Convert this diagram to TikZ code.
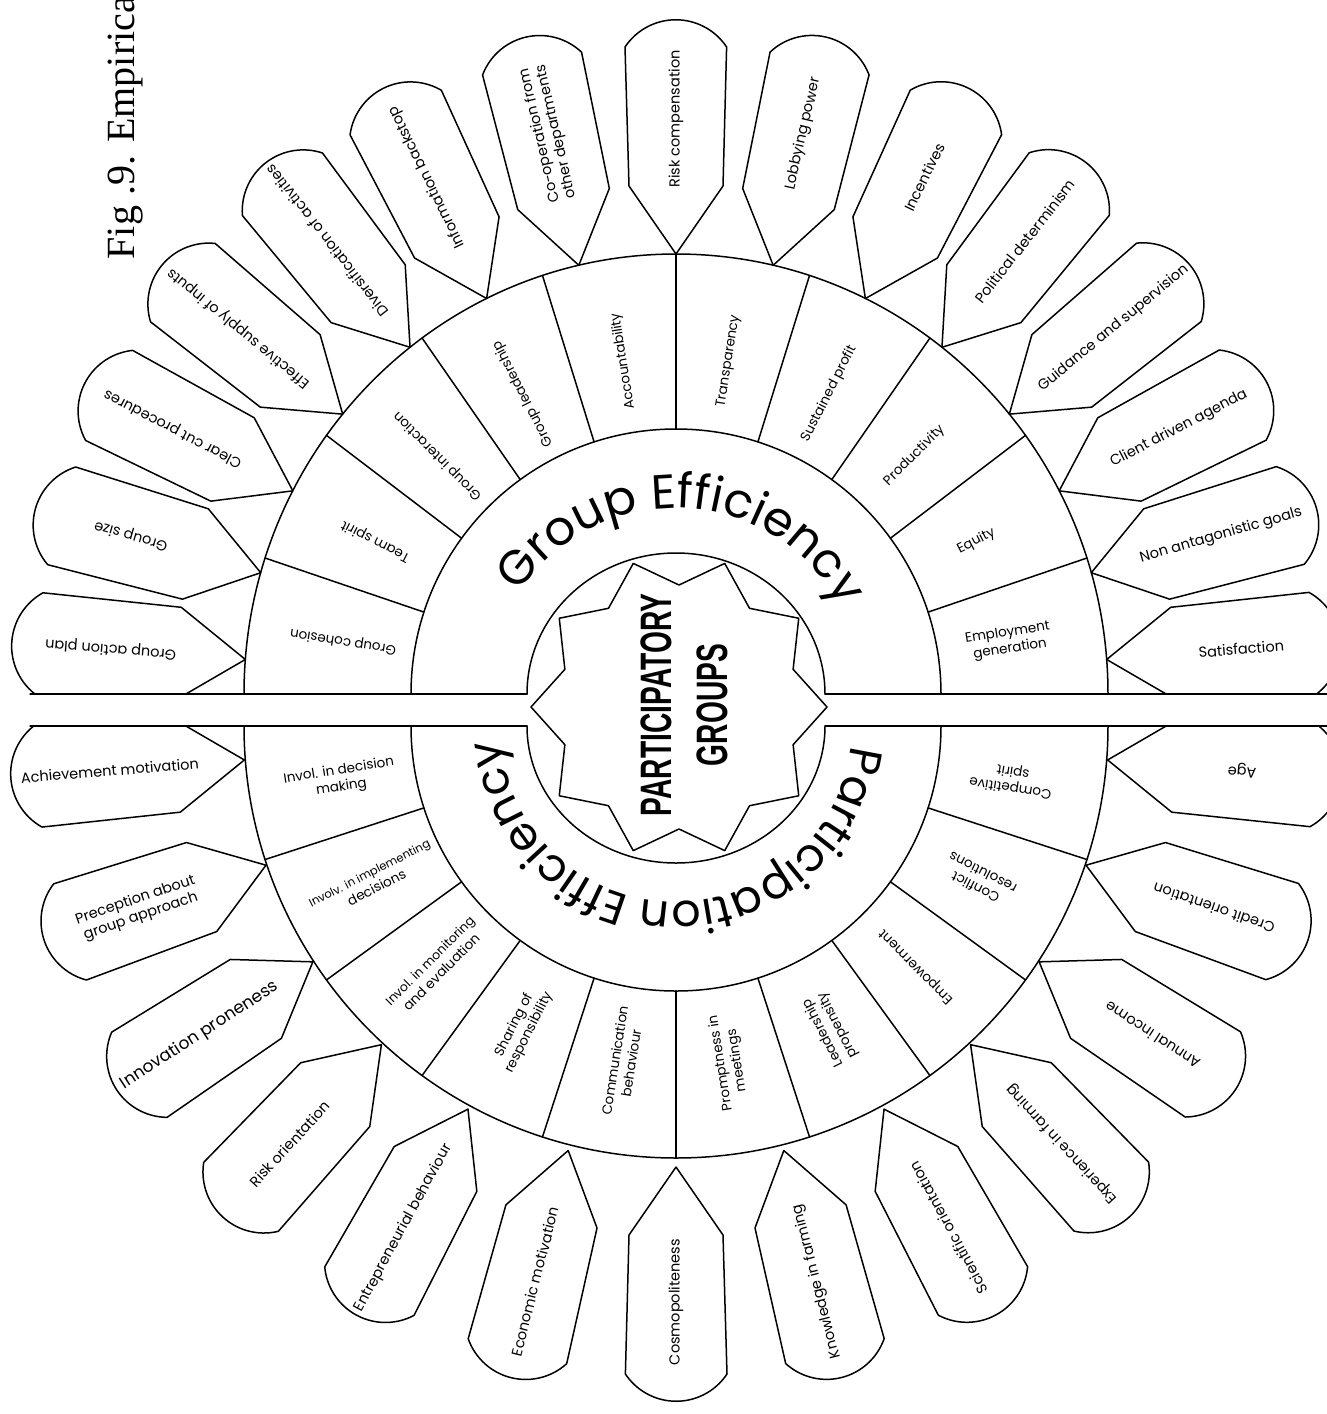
\documentclass[tikz,border=0pt]{standalone}
\usepackage{fontspec}
\setmainfont{Liberation Serif}
\newfontfamily\popfont{Poppins}
\newfontfamily\condfont[FakeStretch=0.64]{Liberation Sans}
\usetikzlibrary{decorations.text}
\begin{document}
\begin{tikzpicture}[x=1pt,y=1pt,line width=1.5pt,line join=round,line cap=round,
  ptxt/.style={font=\popfont\fontsize{14.5}{17}\selectfont,align=center,inner sep=0pt},
  ctxt/.style={font=\popfont\fontsize{13.5}{16.5}\selectfont,align=center,inner sep=0pt}]
\useasboundingbox (0,0) rectangle (1327,-1414);
\clip (0,0) rectangle (1327,-1414);
% ---------------- top half ----------------
\begin{scope}[shift={(676,-694)}]
  \draw (180:432 and 440) arc[start angle=180,end angle=0,x radius=432,y radius=440];
  \draw (180:265) arc[start angle=180,end angle=0,radius=265];
  \draw (180:149 and 141) arc[start angle=180,end angle=0,x radius=149,y radius=141];
  \foreach \a in {18,36,...,162} \draw (\a:265) -- (\a:432 and 440);
  \foreach \a/\lb [count=\i] in {175.5/{Group action plan},164/{Group size},152.5/{Clear cut procedures},140.5/{Effective supply of inputs},128/{Diversification of activities},116/{Information backstop},103/{Co-operation from\\other departments},90/{Risk compensation},77/{Lobbying power},64/{Incentives},52/{Political determinism},39.5/{Guidance and supervision},27.5/{Client driven agenda},16/{Non antagonistic goals},4.5/{Satisfaction}}{
    \begin{scope}[shift={(\a:432 and 440)},rotate=\a]
      \draw (0,0) -- (68,47) -- (207,51) arc[start angle=56.4,end angle=-56.4,radius=61] -- (68,-47) -- cycle;
      \node[ptxt,rotate=\a] (tp\i) at (135,0) {\lb};
    \end{scope}}
  \foreach \a/\lb [count=\i] in {171/{Group cohesion},153/{Team spirit},135/{Group interaction},117/{Group leadership},99/{Accountability},81/{Transparency},63/{Sustained profit},45/{Productivity},27/{Equity},9/{Employment\\generation}}{
    \node[ctxt,rotate=\a] (tc\i) at (\a:337) {\lb};}
  \path[decorate,decoration={text along path,text align=center,
    text={|\popfont\fontsize{48}{48}\selectfont|Group Efficiency}}]
    (165:186) arc[start angle=165,end angle=10,radius=186];
\end{scope}
% ---------------- bottom half ----------------
\begin{scope}[shift={(676,-726)}]
  \draw (180:432) arc[start angle=180,end angle=360,radius=432];
  \draw (180:265) arc[start angle=180,end angle=360,radius=265];
  \draw (180:149 and 137) arc[start angle=180,end angle=360,x radius=149,y radius=137];
  \foreach \a in {198,216,...,342} \draw (\a:265) -- (\a:432);
  \foreach \a/\r/\lb [count=\i] in {184.5/433/{Achievement motivation},198.75/433/{Preception about\\group approach},213/433/{\fontsize{17}{20}\selectfont Innovation proneness},227.25/434/{Risk orientation},241.5/436/{Entrepreneurial behaviour},255.75/438/{Economic motivation},270/441/{Cosmopoliteness},284.25/438/{Knowledge in farming},298.5/436/{Scientific orientation},312.75/434/{Experience in farming},327/433/{Annual income},341.25/433/{Credit orientation},355.5/433/{Age}}{
    \begin{scope}[shift={(\a:\r)},rotate=\a]
      \draw (0,0) -- (68,47) -- (207,51) arc[start angle=56.4,end angle=-56.4,radius=61] -- (68,-47) -- cycle;
      \node[ptxt,rotate=\a-180] (bp\i) at (135,0) {\lb};
    \end{scope}}
  \foreach \a/\lb [count=\i] in {189/{Invol. in decision\\making},207/{\fontsize{11.5}{14}\selectfont Involv. in implementing\\decisions},225/{\fontsize{12.5}{15}\selectfont Invol. in monitoring\\and evaluation},243/{Sharing of\\responsibility},261/{Communication\\behaviour},279/{Promptness in\\meetings},297/{Leadership\\propensity},315/{Empowerment},333/{Conflict\\resolutions},351/{Competitive\\spirit}}{
    \node[ctxt,rotate=\a-180] (bc\i) at (\a:340) {\lb};}
  \path[decorate,decoration={text along path,text align=center,
    text={|\popfont\fontsize{46}{46}\selectfont|Participation Efficiency}}]
    (-4:176) arc[start angle=-4,end angle=-178,radius=176];
\end{scope}
% ---------------- band ----------------
\fill[white] (0,-694.8) rectangle (1327,-725.2);
\draw[line width=1.3pt] (30,-694) -- (527,-694);
\draw[line width=1.3pt] (825,-694) -- (1327,-694);
\draw[line width=1.3pt] (30,-726) -- (527,-726);
\draw[line width=1.3pt] (825,-726) -- (1327,-726);
% ---------------- star ----------------
\begin{scope}[shift={(679,-707)}]
  \draw (0:148 and 151) \foreach \k in {0,...,9}{ -- ({36*\k+18}:120 and 122) -- ({36*\k+36}:148 and 151)} -- cycle;
\end{scope}
\node[font=\condfont\bfseries\fontsize{44}{56}\selectfont,rotate=90,align=center,inner sep=0pt] (pg) at (684,-705) {PARTICIPATORY\\GROUPS};
\node[font=\fontsize{40}{48}\selectfont,rotate=90,anchor=base west,inner sep=0pt] (fig) at (134,-260) {Fig .9. Empirica};
\end{tikzpicture}
\end{document}
